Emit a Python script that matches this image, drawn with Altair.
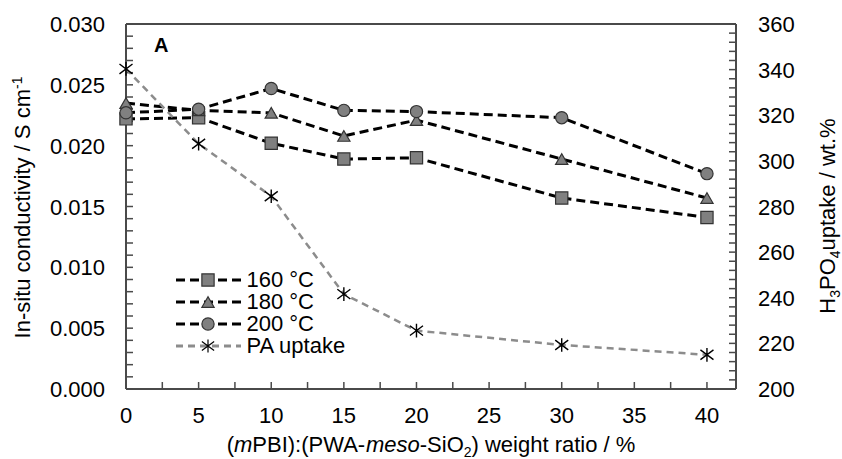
import altair as alt
import pandas as pd

# ---- data -------------------------------------------------------------
ratios = [0, 5, 10, 15, 20, 30, 40]                      # weight ratio / %
cond_160 = [0.0222, 0.0223, 0.0202, 0.0189, 0.0190, 0.0157, 0.0141]
cond_180 = [0.0235, 0.0229, 0.0227, 0.0208, 0.0221, 0.0189, 0.0157]
cond_200 = [0.0227, 0.0230, 0.0247, 0.0229, 0.0228, 0.0223, 0.0177]
pa_uptake = [340.3, 307.5, 284.5, 241.6, 225.6, 219.3, 215.0]   # wt.%

series_names = ["160 °C", "180 °C", "200 °C", "PA uptake"]
marker_keys = ["m160", "m180", "m200", "mpa"]

x_labels = [0, 5, 10, 15, 20, 25, 30, 35, 40]
cond_labels = [0.000, 0.005, 0.010, 0.015, 0.020, 0.025, 0.030]
uptake_labels = [200, 220, 240, 260, 280, 300, 320, 340, 360]

# minor tick positions (drawn inside the frame)
x_ticks = [i * 2.5 for i in range(17)]
cond_ticks = [round(i * 0.001, 3) for i in range(31)]
uptake_ticks = list(range(200, 361, 4))

cond_df = pd.concat([
    pd.DataFrame({"ratio": ratios, "value": vals, "series": name, "mk": key})
    for name, key, vals in zip(series_names[:3], marker_keys[:3],
                               [cond_160, cond_180, cond_200])
])
pa_df = pd.DataFrame({"ratio": ratios, "value": pa_uptake,
                      "series": series_names[3], "mk": marker_keys[3]})

# ---- style -------------------------------------------------------------
FONT = "Liberation Sans"
FS = 22
AX = "#4a4a4a"
MARK_FILL = "#808080"
MARK_EDGE = "#333333"
PA_GREY = "#8c8c8c"
ASTERISK = "M-1,-0.75L1,0.75M-1,0.75L1,-0.75M0,-1.05L0,1.05"
TICK = 7

W, H = 610, 365
LEFT, TOP = 126, 24

# ---- scales (frame, ticks and labels are drawn as marks below) -------------
x_enc = alt.X("ratio:Q", scale=alt.Scale(domain=[0, 42], nice=False), axis=None)
y_cond = alt.Y("value:Q", scale=alt.Scale(domain=[0, 0.03], nice=False),
               axis=None)
y_pa = alt.Y("value:Q", scale=alt.Scale(domain=[200, 360], nice=False),
             axis=None)

one_row = pd.DataFrame({"k": [0]})
frame_style = dict(color=AX, strokeWidth=2)
frame = [
    alt.Chart(one_row).mark_rule(**frame_style).encode(
        x=alt.value(0), x2=alt.value(W), y=alt.value(0)),
    alt.Chart(one_row).mark_rule(**frame_style).encode(
        x=alt.value(0), x2=alt.value(W), y=alt.value(H)),
    alt.Chart(one_row).mark_rule(**frame_style).encode(
        x=alt.value(0), y=alt.value(0), y2=alt.value(H)),
    alt.Chart(one_row).mark_rule(**frame_style).encode(
        x=alt.value(W), y=alt.value(0), y2=alt.value(H)),
]

tick_style = dict(color=AX, strokeWidth=1.5)
x_tick_marks = alt.Chart(pd.DataFrame({"ratio": x_ticks})).mark_rule(
    **tick_style).encode(x=x_enc, y=alt.value(H - TICK), y2=alt.value(H))
left_tick_marks = alt.Chart(pd.DataFrame({"value": cond_ticks})).mark_rule(
    **tick_style).encode(y=y_cond, x=alt.value(0), x2=alt.value(TICK))
right_tick_marks = alt.Chart(pd.DataFrame({"value": uptake_ticks})).mark_rule(
    **tick_style).encode(y=y_pa, x=alt.value(W - TICK), x2=alt.value(W))

label_style = dict(font=FONT, fontSize=FS, color="black", baseline="alphabetic")
x_label_marks = alt.Chart(pd.DataFrame({"ratio": x_labels})).mark_text(
    align="center", **label_style).encode(
    x=x_enc, y=alt.value(423 - TOP), text=alt.Text("ratio:Q", format="d"))
left_label_marks = alt.Chart(pd.DataFrame({"value": cond_labels})).mark_text(
    align="right", dy=8, **label_style).encode(
    y=y_cond, x=alt.value(105 - LEFT), text=alt.Text("value:Q", format=".3f"))
right_label_marks = alt.Chart(pd.DataFrame({"value": uptake_labels})).mark_text(
    align="left", dy=8, **label_style).encode(
    y=y_pa, x=alt.value(758 - LEFT), text=alt.Text("value:Q", format="d"))

# ---- legends: dashed lines underneath, markers on top ----------------------
line_legend = alt.Legend(title=None, orient="none", legendX=48.5, legendY=245,
                         symbolType="stroke", symbolSize=4225,
                         symbolStrokeWidth=3, clipHeight=22, rowPadding=0,
                         labelOffset=4, labelFont=FONT, labelFontSize=FS,
                         labelColor="black", padding=0)
marker_legend = alt.Legend(title=None, orient="none", legendX=71, legendY=245,
                           symbolSize=150, symbolStrokeWidth=1.2,
                           clipHeight=22, rowPadding=0, labelOffset=4,
                           labelFont=FONT, labelFontSize=FS, labelExpr="''",
                           padding=0, zindex=1)

color_enc = alt.Color("series:N", scale=alt.Scale(
    domain=series_names, range=["black", "black", "black", PA_GREY]),
    legend=line_legend)
dash_enc = alt.StrokeDash("series:N", scale=alt.Scale(
    domain=series_names, range=[[9, 5], [9, 5], [9, 5], [7, 5]]),
    legend=line_legend)
shape_enc = alt.Shape("mk:N", scale=alt.Scale(
    domain=marker_keys, range=["square", "triangle-up", "circle", ASTERISK]),
    legend=marker_legend)
fill_enc = alt.Fill("mk:N", scale=alt.Scale(
    domain=marker_keys, range=[MARK_FILL, MARK_FILL, MARK_FILL, "transparent"]),
    legend=marker_legend)
stroke_enc = alt.Stroke("mk:N", scale=alt.Scale(
    domain=marker_keys, range=[MARK_EDGE, MARK_EDGE, MARK_EDGE, "black"]),
    legend=marker_legend)

# ---- conductivity (left scale) ---------------------------------------------
cond_line = alt.Chart(cond_df).mark_line(strokeWidth=3).encode(
    x=x_enc, y=y_cond, color=color_enc, strokeDash=dash_enc)
cond_pts = alt.Chart(cond_df).mark_point(filled=True, size=150, opacity=1,
                                         strokeWidth=1.2).encode(
    x=x_enc, y=y_cond, shape=shape_enc, fill=fill_enc, stroke=stroke_enc)

# ---- acid uptake (right scale) -----------------------------------------------
pa_line = alt.Chart(pa_df).mark_line(strokeWidth=2.5).encode(
    x=x_enc, y=y_pa, color=color_enc, strokeDash=dash_enc)
pa_pts = alt.Chart(pa_df).mark_point(filled=True, size=170, opacity=1,
                                     strokeWidth=1.4).encode(
    x=x_enc, y=y_pa, shape=shape_enc, fill=fill_enc, stroke=stroke_enc)

# ---- rich-text titles (italics, sub/superscripts) ----------------------------
ARIAL = {' ': 278, '(': 333, ')': 333, ':': 278, '-': 333, '/': 278,
         '%': 889, '.': 278, 'A': 667, 'B': 667, 'H': 722, 'I': 278,
         'O': 778, 'P': 667, 'S': 667, 'W': 944, 'a': 556, 'c': 500,
         'd': 556, 'e': 556, 'g': 556, 'h': 556, 'i': 222, 'k': 500,
         'm': 833, 'n': 556, 'o': 556, 'p': 556, 'r': 333, 's': 500,
         't': 278, 'u': 556, 'v': 500, 'w': 722, 'y': 500}
SMALL = 14


def seg_width(text, size):
    return sum(ARIAL.get(ch, 556) for ch in text) / 1000 * size


def rich_text(segments, center, baseline, vertical=False):
    """segments: list of (text, kind) with kind in n / i / sub / sup."""
    sizes = [SMALL if k in ("sub", "sup") else FS for _, k in segments]
    total = sum(seg_width(t, s) for (t, _), s in zip(segments, sizes))
    pos = center - total / 2 if not vertical else center + total / 2
    layers = []
    for (text, kind), size in zip(segments, sizes):
        shift = 5 if kind == "sub" else (-8 if kind == "sup" else 0)
        if vertical:
            px, py, ang = baseline + shift, pos, 270
        else:
            px, py, ang = pos, baseline + shift, 0
        mark = dict(text=text, font=FONT, fontSize=size, align="left",
                    baseline="alphabetic", angle=ang, color="black")
        if kind == "i":
            mark["fontStyle"] = "italic"
        layers.append(alt.Chart(one_row).mark_text(**mark).encode(
            x=alt.value(px - LEFT), y=alt.value(py - TOP)))
        w = seg_width(text, size)
        pos = pos - w if vertical else pos + w
    return layers


x_title = rich_text([("(", "n"), ("m", "i"), ("PBI):(PWA-", "n"),
                     ("meso", "i"), ("-SiO", "n"), ("2", "sub"),
                     (") weight ratio / %", "n")],
                    center=LEFT + W / 2, baseline=452)
y_left_title = rich_text([("In-situ conductivity / S cm", "n"), ("-1", "sup")],
                         center=207.5, baseline=30, vertical=True)
y_right_title = rich_text([("H", "n"), ("3", "sub"), ("PO", "n"), ("4", "sub"),
                           (" uptake / wt.%", "n")],
                          center=213, baseline=835, vertical=True)

panel_tag = alt.Chart(one_row).mark_text(
    text="A", font=FONT, fontSize=20, fontWeight="bold", align="left",
    baseline="alphabetic", color="black").encode(
    x=alt.value(154 - LEFT), y=alt.value(52 - TOP))

left = alt.layer(left_tick_marks, x_tick_marks, left_label_marks,
                 x_label_marks, cond_line, cond_pts)
right = alt.layer(right_tick_marks, right_label_marks, pa_line, pa_pts)

chart = alt.layer(
    *frame, left, right, *x_title, *y_left_title, *y_right_title, panel_tag
).resolve_scale(
    y="independent"
).properties(
    width=W, height=H,
    autosize=alt.AutoSizeParams(type="none"),
    padding={"left": LEFT, "top": TOP, "right": 842 - LEFT - W,
             "bottom": 459 - TOP - H},
    background="white",
).configure_view(
    stroke=None
)

chart.save("out.html", embed_options={"renderer": "svg", "actions": False})
